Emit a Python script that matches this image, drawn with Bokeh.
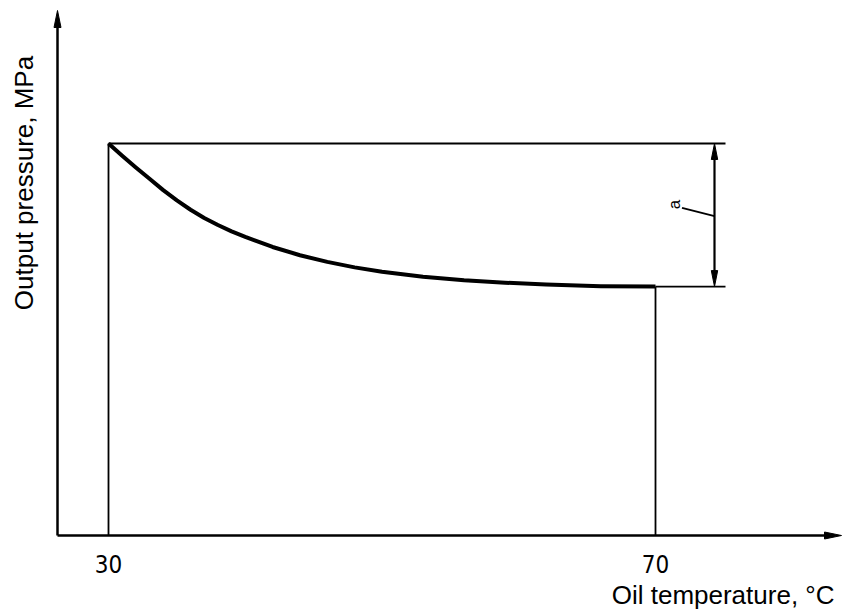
import math
from bokeh.plotting import figure
from bokeh.models import Range1d, Label
from bokeh.embed import file_html
from bokeh.resources import INLINE
from bokeh.core.properties import value

# ---- data ----
temperature = [30, 31, 32, 33, 34, 35, 36, 37, 38, 39, 40, 42, 44, 46, 48, 50,
               53, 56, 59, 62, 66, 70]
pressure = [1.000, 0.969, 0.939, 0.910, 0.881, 0.855, 0.831, 0.810, 0.792, 0.776,
            0.762, 0.736, 0.715, 0.698, 0.684, 0.673, 0.660, 0.651, 0.645, 0.640,
            0.636, 0.635]
x_ticks = [30, 70]
x_tick_labels = ["30", "70"]
x_title = "Oil temperature, °C"
y_title = "Output pressure, MPa"
dim_label = "a"

# ---- layout (frame covers the whole canvas) ----
W, H = 847, 614
PX_X = 13.675   # pixels per °C
PX_Y = 392.0    # pixels per pressure unit
ORIGIN_PX = 108  # pixel column of 30 °C
BASE_PY = 535    # pixel row of the temperature axis


def tx(px):
    return 30 + (px - ORIGIN_PX) / PX_X


def ty(py):
    return (BASE_PY - py) / PX_Y


p = figure(width=W, height=H, output_backend="svg", toolbar_location=None,
           x_range=Range1d(tx(0), tx(W)), y_range=Range1d(ty(H), ty(0)),
           x_axis_location=None, y_axis_location=None,
           min_border=0, min_border_left=0, min_border_right=0,
           min_border_top=0, min_border_bottom=0)
p.outline_line_color = None
p.xgrid.visible = False
p.ygrid.visible = False
p.background_fill_color = "white"
p.border_fill_color = "white"


def head(tip_x, tip_y, direction, length=15, half=3.5):
    dx_l = length / PX_X
    dy_l = length / PX_Y
    dx_h = half / PX_X
    dy_h = half / PX_Y
    if direction == "up":
        xs = [tip_x, tip_x - dx_h, tip_x + dx_h]
        ys = [tip_y, tip_y - dy_l, tip_y - dy_l]
    elif direction == "down":
        xs = [tip_x, tip_x - dx_h, tip_x + dx_h]
        ys = [tip_y, tip_y + dy_l, tip_y + dy_l]
    else:
        xs = [tip_x, tip_x - dx_l, tip_x - dx_l]
        ys = [tip_y, tip_y - dy_h, tip_y + dy_h]
    p.patch(xs, ys, fill_color="black", line_color="black", line_width=1)


# axes with arrows
x_axis_start = tx(57)
x_tip = tx(841)
y_tip = ty(10)
p.line([x_axis_start, x_tip - 10 / PX_X], [0, 0], line_color="black", line_width=2.5)
head(x_tip, 0, "right", length=17, half=3.5)
p.line([x_axis_start, x_axis_start], [0, y_tip - 10 / PX_Y], line_color="black", line_width=2.5)
head(x_axis_start, y_tip, "up", length=17, half=3.5)

# tick labels
p.text(x=x_ticks, y=[ty(563)] * len(x_ticks), text=x_tick_labels,
       text_align="center", text_baseline="middle",
       text_font=value("Liberation Sans Narrow, DejaVu Sans Condensed, DejaVu Sans"),
       text_font_size="24px", text_color="black")

# verticals at the end temperatures
t_first, t_last = temperature[0], temperature[-1]
p_first, p_last = pressure[0], pressure[-1]
p.line([t_first, t_first], [0, p_first], line_color="black", line_width=1.8)
p.line([t_last, t_last], [0, p_last], line_color="black", line_width=1.8)

# extension lines
t_ext = tx(725)
p.line([t_first, t_ext], [p_first, p_first], line_color="black", line_width=1.8)
p.line([t_last, t_ext], [p_last, p_last], line_color="black", line_width=1.8)

# dimension arrow
t_dim = tx(714)
p.line([t_dim, t_dim], [p_first - 12 / PX_Y, p_last + 12 / PX_Y], line_color="black", line_width=2.2)
head(t_dim, p_first, "up", length=16, half=3.2)
head(t_dim, p_last, "down", length=16, half=3.2)

# leader line + label
p.line([tx(681.5), t_dim], [ty(207.3), ty(215.7)], line_color="black", line_width=1.8)
p.add_layout(Label(x=tx(674), y=ty(204), text=dim_label, angle=math.pi / 2,
                   text_align="center", text_baseline="middle",
                   text_font="Liberation Sans", text_font_size="17px", text_color="black"))

# curve
p.line(temperature, pressure, line_color="black", line_width=4, line_join="round")

# titles
p.add_layout(Label(x=tx(834), y=ty(594), text=x_title, text_align="right",
                   text_baseline="middle", text_font="Liberation Sans",
                   text_font_size="26px", text_color="black"))
p.add_layout(Label(x=tx(23), y=ty(182.5), text=y_title, angle=math.pi / 2,
                   text_align="center", text_baseline="middle",
                   text_font="Liberation Sans", text_font_size="26px", text_color="black"))

open("out.html", "w").write(file_html(p, INLINE))
